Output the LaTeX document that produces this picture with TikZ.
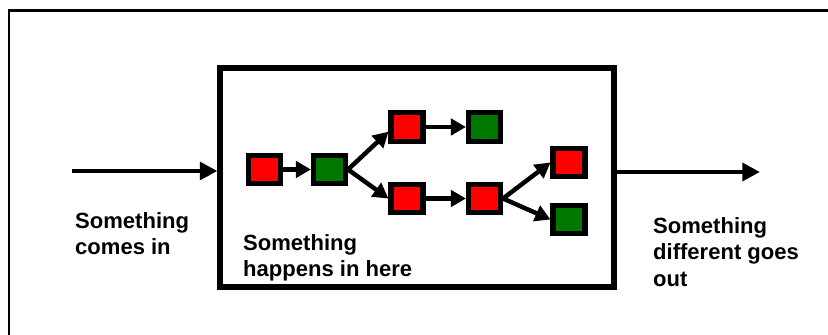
\documentclass[tikz,border=0pt]{standalone}
\usepackage{fontspec}
\setmainfont{Liberation Sans}
\usetikzlibrary{arrows.meta}
\definecolor{boxred}{RGB}{255,0,0}
\definecolor{boxgreen}{RGB}{0,120,0}
\tikzset{
    redbox/.style={draw, line width=4.3pt, fill=boxred, minimum width=0.96cm, minimum height=0.86cm, inner sep=0pt},
    greenbox/.style={redbox, fill=boxgreen},
    flow/.style={-{Triangle[length=13pt, width=14pt]}, line width=3.8pt},
    bigflow/.style={-{Triangle[length=15pt, width=15pt]}, line width=3.8pt},
    note/.style={align=left, inner sep=0pt, font=\fontsize{18.8}{22.6}\selectfont\bfseries}
}

\begin{document}
\begin{tikzpicture}[x=0.03cm, y=0.03cm]
    \useasboundingbox (0,0) rectangle (828,335);
    \draw[line width=2.5pt] (9,0) -- (9,324.5) -- (828,324.5);
    \node[draw, line width=5pt, minimum width=11.8cm, minimum height=6.55cm] (frame) at (417,157.5) {};
    \coordinate (inStart) at (72,164);
    \coordinate (outEnd) at (760,163);
    \draw[bigflow] (inStart) -- (inStart -| frame.west);
    \draw[bigflow] (frame.east |- outEnd) -- (outEnd);
    \node[redbox] (a) at (264.5,165.5) {};
    \node[greenbox] (b) at (329.5,165.5) {};
    \node[redbox] (c) at (407,208) {};
    \node[greenbox] (d) at (484.5,208) {};
    \node[redbox] (e) at (407,136.5) {};
    \node[redbox] (f) at (484.5,136.5) {};
    \node[redbox] (g) at (569,172.5) {};
    \node[greenbox] (h) at (569,115.5) {};
    \draw[flow] (a) -- (b);
    \draw[flow] (b.east) -- ([yshift=-4]c.west);
    \draw[flow] (b.east) -- (e.west);
    \draw[flow] (c) -- (d);
    \draw[flow] (e) -- (f);
    \draw[flow] (f.east) -- (g.west);
    \draw[flow] (f.east) -- (h.west);
    \node[note, anchor=north west] (inText) at (75,123) {Something\\comes in};
    \node[note, anchor=north west] (midText) at (243,101) {Something\\happens in here};
    \node[note, anchor=north west] (outText) at (653,118) {Something\\different goes\\out};
\end{tikzpicture}
\end{document}
